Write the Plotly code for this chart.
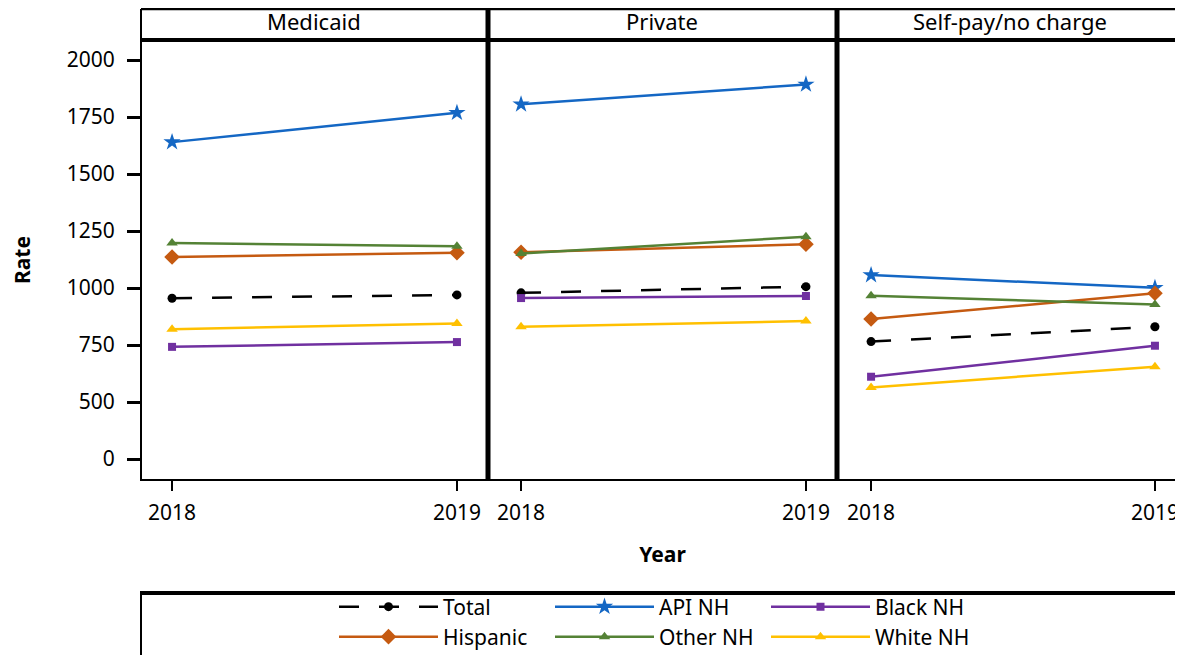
import plotly.graph_objects as go

# the page places the figure 8px in from the top-left corner (browser body margin)
OFF = 8
PAGE_W, PAGE_H = 1183, 655
W, H = PAGE_W, PAGE_H

# ---------------- data ----------------
years = [2018, 2019]
payers = ["Medicaid", "Private", "Self-pay/no charge"]

# values per payer panel: [2018, 2019]
total_vals = [[955, 970], [979, 1006], [765, 830]]
api_nh_vals = [[1640, 1769], [1806, 1893], [1057, 1001]]
black_nh_vals = [[742, 763], [956, 965], [611, 747]]
hispanic_vals = [[1136, 1155], [1157, 1192], [864, 977]]
other_nh_vals = [[1198, 1183], [1152, 1225], [966, 928]]
white_nh_vals = [[819, 845], [830, 855], [564, 655]]

y_tick_pos = [250, 500, 750, 1000, 1250, 1500, 1750, 2000]
y_tick_labels = ["0", "500", "750", "1000", "1250", "1500", "1750", "2000"]

series = [
    ("Total", total_vals, dict(color="black", dash="20px,20px", symbol="circle", size=9), "legend"),
    ("API NH", api_nh_vals, dict(color="#1467c4", dash="solid", symbol="star", size=13), "legend"),
    ("Black NH", black_nh_vals, dict(color="#7030a0", dash="solid", symbol="square", size=8), "legend"),
    ("Hispanic", hispanic_vals, dict(color="#c55a11", dash="solid", symbol="diamond", size=12), "legend2"),
    ("Other NH", other_nh_vals, dict(color="#548235", dash="solid", symbol="triangle-up", size=10), "legend2"),
    ("White NH", white_nh_vals, dict(color="#ffc000", dash="solid", symbol="triangle-up", size=10), "legend2"),
]

FONT = "Noto Sans, Open Sans, DejaVu Sans, sans-serif"
FS = 21


def px(x):
    return (x - OFF) / W


def py(y):
    return 1 - (y - OFF) / H


fig = go.Figure()
for i, payer in enumerate(payers):
    for name, vals, st, leg in series:
        fig.add_trace(go.Scatter(
            x=years, y=vals[i], name=name, mode="lines+markers",
            xaxis="x" if i == 0 else f"x{i+1}",
            yaxis="y" if i == 0 else f"y{i+1}",
            line=dict(color=st["color"], width=2.5, dash=st["dash"]),
            marker=dict(symbol=st["symbol"], size=st["size"], color=st["color"]),
            legendgroup=name, showlegend=(i == 0), legend=leg,
        ))

# panel geometry (page pixels)
edges = [141, 488, 837, W + OFF]
ranges = [[2017.891, 2019.109], [2017.884, 2019.109], [2017.880, 2019.127]]
header_x = [314, 662, 1010]
y_top, y_bot, hdr_top = 40, 480, 8
ydom = [py(y_bot), py(y_top)]

xaxis_common = dict(
    tickvals=years, ticks="outside", ticklen=10, tickwidth=2, tickcolor="black",
    showgrid=False, zeroline=False, showline=False, ticklabelstandoff=4,
    tickfont=dict(size=FS, family=FONT, color="black"),
)
layout = dict(
    width=W, height=H, margin=dict(l=0, r=0, t=0, b=0),
    paper_bgcolor="white", plot_bgcolor="white",
    font=dict(family=FONT, size=FS, color="black"),
)
for i in range(3):
    key = "xaxis" if i == 0 else f"xaxis{i+1}"
    ax = dict(xaxis_common, domain=[px(edges[i]), min(1, px(edges[i + 1]))], range=ranges[i],
              anchor="y" if i == 0 else f"y{i+1}")
    if i == 1:
        ax["title"] = dict(text="<b>Year</b>", font=dict(size=FS, family=FONT), standoff=22)
    layout[key] = ax
    ykey = "yaxis" if i == 0 else f"yaxis{i+1}"
    yax = dict(domain=ydom, range=[158, 2088], showgrid=False, zeroline=False, showline=False,
               anchor="x" if i == 0 else f"x{i+1}")
    if i == 0:
        yax.update(tickvals=y_tick_pos, ticktext=y_tick_labels, ticks="outside", ticklen=13,
                   tickwidth=3, tickcolor="black", ticklabelstandoff=8,
                   tickfont=dict(size=FS, family=FONT, color="black"),
                   title=dict(text="<b>Rate</b>", font=dict(size=FS, family=FONT), standoff=34))
    else:
        yax.update(matches="y", showticklabels=False, ticks="")
    layout[ykey] = yax

legend_common = dict(
    orientation="h", xanchor="left", yanchor="middle", itemwidth=99,
    entrywidth=102, entrywidthmode="pixels", bgcolor="rgba(0,0,0,0)",
    font=dict(size=FS, family=FONT, color="black"), borderwidth=0,
    itemclick=False, itemdoubleclick=False,
)
layout["legend"] = dict(legend_common, x=px(334), y=py(607))
layout["legend2"] = dict(legend_common, x=px(334), y=py(637))

fig.update_layout(**layout)

# frames
shapes = []


def line(x0, y0, x1, y1, w):
    shapes.append(dict(type="line", xref="paper", yref="paper",
                       x0=px(x0), y0=py(y0), x1=px(x1), y1=py(y1),
                       line=dict(color="black", width=w)))


RIGHT = W + OFF
line(141, hdr_top + 1, 141, y_bot, 2)      # left border
line(140, y_bot, RIGHT, y_bot, 2)          # bottom border
line(141, hdr_top + 1, RIGHT, hdr_top + 1, 2.5)  # header top
line(141, y_top, RIGHT, y_top, 4)          # header bottom
line(488, hdr_top, 488, y_bot, 5)          # divider 1
line(837, hdr_top, 837, y_bot, 5)          # divider 2
line(140, 593, RIGHT, 593, 4)              # legend box top
line(141, 593, 141, H + OFF, 2)            # legend box left
fig.update_layout(shapes=shapes)

for i, payer in enumerate(payers):
    fig.add_annotation(text=payer, xref="paper", yref="paper",
                       x=px(header_x[i]), y=py(21),
                       showarrow=False, xanchor="center", yanchor="middle",
                       font=dict(size=22, family=FONT, color="black"))

fig.write_html("out.html")
